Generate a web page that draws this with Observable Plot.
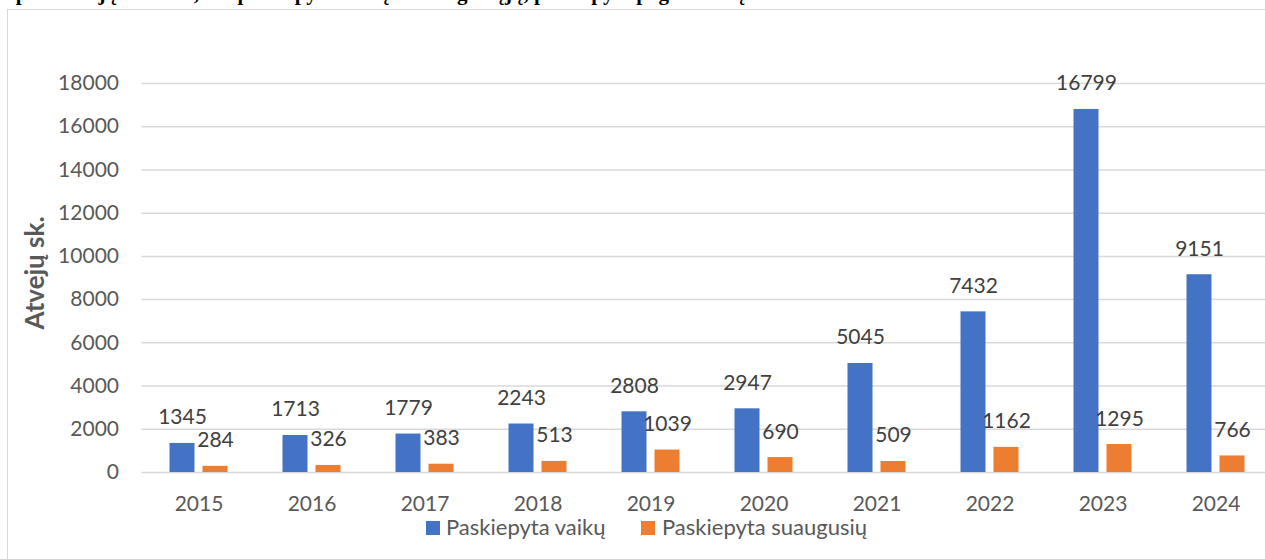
<!DOCTYPE html>
<html><head><meta charset="utf-8">
<script src="https://cdn.jsdelivr.net/npm/d3@7"></script>
<script src="https://cdn.jsdelivr.net/npm/@observablehq/plot@0.6"></script>
<style>
html,body{margin:0;padding:0;background:#fff;}
body{width:1265px;height:559px;overflow:hidden;position:relative;font-family:Lato,sans-serif;}
#title{position:absolute;left:0;top:-17px;font:bold 21px "Liberation Serif",serif;line-height:20px;white-space:nowrap;color:#000;}
#frame{position:absolute;left:7px;top:9px;width:1300px;height:600px;border:1.5px solid #d9d9d9;box-sizing:border-box;}
#chart{position:absolute;left:0;top:0;}
#ytitle{position:absolute;left:34px;top:273px;transform:translate(-50%,-50%) rotate(-90deg);font:bold 26px Lato,sans-serif;color:#595959;white-space:nowrap;}
.lg{position:absolute;top:521px;width:14px;height:14px;}
.lt{position:absolute;top:514px;font:22px Lato,sans-serif;color:#595959;line-height:26px;white-space:nowrap;}
</style></head>
<body>
<div id="title">1 pav. Atvejų skaičius, kai paskiepyta vaikų ir suaugusiųjų, paskiepyta pagal amžių 2015–2024 m.</div>
<div id="frame"></div>
<div id="chart"></div>
<div id="ytitle">Atvejų sk.</div>
<div id="legend"></div>
<script>
const years = ["2015","2016","2017","2018","2019","2020","2021","2022","2023","2024"];
const children = [1345,1713,1779,2243,2808,2947,5045,7432,16799,9151];
const adults = [284,326,383,513,1039,690,509,1162,1295,766];
const seriesNames = ["Paskiepyta vaikų","Paskiepyta suaugusių"];
const seriesColors = ["#4472C4","#ED7D31"];
const yTicks = [0,2000,4000,6000,8000,10000,12000,14000,16000,18000];

const kids = years.map((y,i)=>({year:y,value:children[i]}));
const adl = years.map((y,i)=>({year:y,value:adults[i]}));

const chart = Plot.plot({
  width:1265, height:520,
  marginLeft:141.5, marginRight:0, marginTop:83, marginBottom:48,
  style:{fontFamily:"Lato, sans-serif", background:"transparent", overflow:"visible"},
  x:{type:"band", domain:years, range:[141.5,1272], padding:0},
  y:{domain:[0,18000]},
  marks:[
    Plot.gridY(yTicks,{stroke:"#d9d9d9", strokeOpacity:1, strokeWidth:1.5}),
    Plot.barY(kids,{x:"year", y:"value", fill:seriesColors[0], insetLeft:27.5, insetRight:60.5}),
    Plot.barY(adl,{x:"year", y:"value", fill:seriesColors[1], insetLeft:60.5, insetRight:27.5}),
    Plot.text(kids,{x:"year", y:"value", text:d=>String(d.value), dx:-16.5, dy:-19, lineAnchor:"bottom", fill:"#404040", fontSize:21}),
    Plot.text(adl,{x:"year", y:"value", text:d=>String(d.value), dx:16.5, dy:-19, lineAnchor:"bottom", fill:"#404040", fontSize:21}),
    Plot.axisY({ticks:yTicks, tickSize:0, tickPadding:23, tickFormat:d=>String(d), fontSize:21, color:"#595959", label:null}),
    Plot.axisX({tickSize:0, tickPadding:24, fontSize:21, color:"#595959", label:null})
  ]
});
document.getElementById("chart").appendChild(chart);

const lg = document.getElementById("legend");
const pos = [[426,446],[641,662]];
seriesNames.forEach((n,i)=>{
  const s=document.createElement("div"); s.className="lg"; s.style.left=pos[i][0]+"px"; s.style.background=seriesColors[i]; lg.appendChild(s);
  const t=document.createElement("div"); t.className="lt"; t.style.left=pos[i][1]+"px"; t.textContent=n; lg.appendChild(t);
});
</script>
</body></html>
